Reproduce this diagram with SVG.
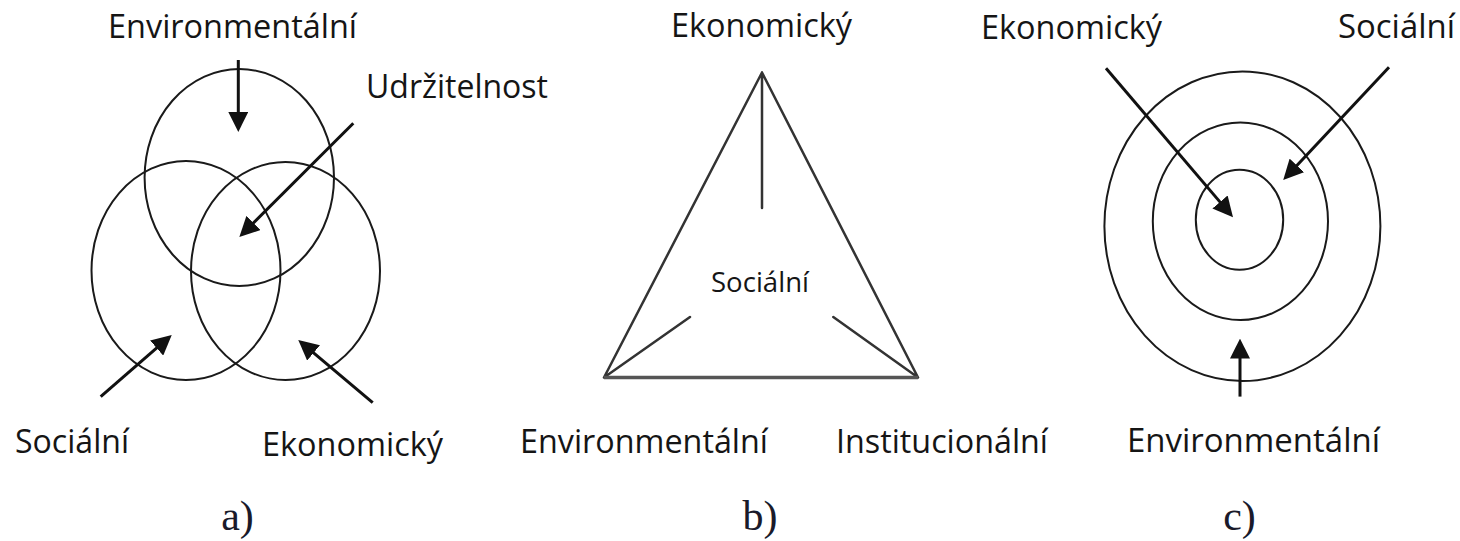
<svg xmlns="http://www.w3.org/2000/svg" width="1460" height="541" viewBox="0 0 1460 541">
<style>
.lbl{font-family:"Open Sans","Noto Sans",sans-serif;font-size:33px;fill:#151515}
.sm{font-size:28px}
.cap{font-family:"Liberation Serif","Times New Roman",serif;font-size:42px;fill:#1a1a2a;text-anchor:middle}
.ring{fill:none;stroke:#1a1a1a;stroke-width:2}
.arr{fill:none;stroke:#111;stroke-width:3;marker-end:url(#ah)}
.tri{fill:none;stroke:#333;stroke-width:2.5;stroke-linecap:round}
</style>
<defs>
<marker id="ah" markerUnits="userSpaceOnUse" viewBox="0 0 20 20" markerWidth="20" markerHeight="20" refX="12" refY="10" orient="auto">
<path d="M0,0 L20,10 L0,20 z" fill="#111"/>
</marker>
</defs>
<rect width="1460" height="541" fill="#fff"/>

<!-- a) -->
<g id="a-venn">
<ellipse class="ring" cx="239.3" cy="177.5" rx="94.7" ry="108.5"/>
<ellipse class="ring" cx="186" cy="270.5" rx="94.5" ry="109.5"/>
<ellipse class="ring" cx="285.5" cy="271" rx="94.5" ry="109"/>
</g>
<g id="a-environmentalni"><text class="lbl" x="108" y="38" textLength="249" lengthAdjust="spacingAndGlyphs">Environmentální</text></g>
<g id="a-udrzitelnost"><text class="lbl" x="366" y="98" textLength="182" lengthAdjust="spacingAndGlyphs">Udržitelnost</text></g>
<g id="a-socialni"><text class="lbl" x="15" y="453" textLength="114" lengthAdjust="spacingAndGlyphs">Sociální</text></g>
<g id="a-ekonomicky"><text class="lbl" x="262" y="456" textLength="181" lengthAdjust="spacingAndGlyphs">Ekonomický</text></g>
<g id="a-label"><text class="cap" x="237.5" y="530">a)</text></g>

<!-- b) -->
<g id="b-triangle">
<path class="tri" d="M762,72.5 L604,377.5 M762,72.5 L918,377.5 M762,72.5 L762,208 M604,377.5 L690,317 M918,377.5 L833.3,317"/>
<path d="M604,377.5 L918,377.5" fill="none" stroke="#555" stroke-width="3.5"/>
</g>
<g id="b-ekonomicky"><text class="lbl" x="671" y="36.5" textLength="181" lengthAdjust="spacingAndGlyphs">Ekonomický</text></g>
<g id="b-socialni"><text class="lbl sm" x="711" y="292" textLength="98" lengthAdjust="spacingAndGlyphs">Sociální</text></g>
<g id="b-environmentalni"><text class="lbl" x="520" y="453" textLength="248" lengthAdjust="spacingAndGlyphs">Environmentální</text></g>
<g id="b-institucionalni"><text class="lbl" x="836" y="453" textLength="212" lengthAdjust="spacingAndGlyphs">Institucionální</text></g>
<g id="b-label"><text class="cap" x="760" y="530">b)</text></g>

<!-- c) -->
<g id="c-rings">
<ellipse class="ring" cx="1242.4" cy="226.2" rx="138" ry="154.8"/>
<ellipse class="ring" cx="1240.4" cy="221.2" rx="87.6" ry="98.8"/>
<ellipse class="ring" cx="1239.5" cy="219.7" rx="43.7" ry="50"/>
</g>
<g id="c-ekonomicky"><text class="lbl" x="981" y="39" textLength="181" lengthAdjust="spacingAndGlyphs">Ekonomický</text></g>
<g id="c-socialni"><text class="lbl" x="1338" y="38" textLength="117" lengthAdjust="spacingAndGlyphs">Sociální</text></g>
<g id="c-environmentalni"><text class="lbl" x="1127" y="452" textLength="253" lengthAdjust="spacingAndGlyphs">Environmentální</text></g>
<g id="c-label"><text class="cap" x="1239.5" y="530">c)</text></g>

<g id="connectors">
<line class="arr" x1="238.3" y1="60" x2="238.3" y2="124"/>
<line class="arr" x1="353.3" y1="123.3" x2="245" y2="231.4"/>
<line class="arr" x1="100.7" y1="396.7" x2="165.7" y2="340.2"/>
<line class="arr" x1="372.7" y1="402.7" x2="304.4" y2="345.2"/>
<line class="arr" x1="1106" y1="68.3" x2="1227.8" y2="211.1"/>
<line class="arr" x1="1389" y1="67.2" x2="1288.7" y2="174.2"/>
<line class="arr" x1="1240" y1="396.6" x2="1240" y2="346.6"/>
</g>
</svg>
